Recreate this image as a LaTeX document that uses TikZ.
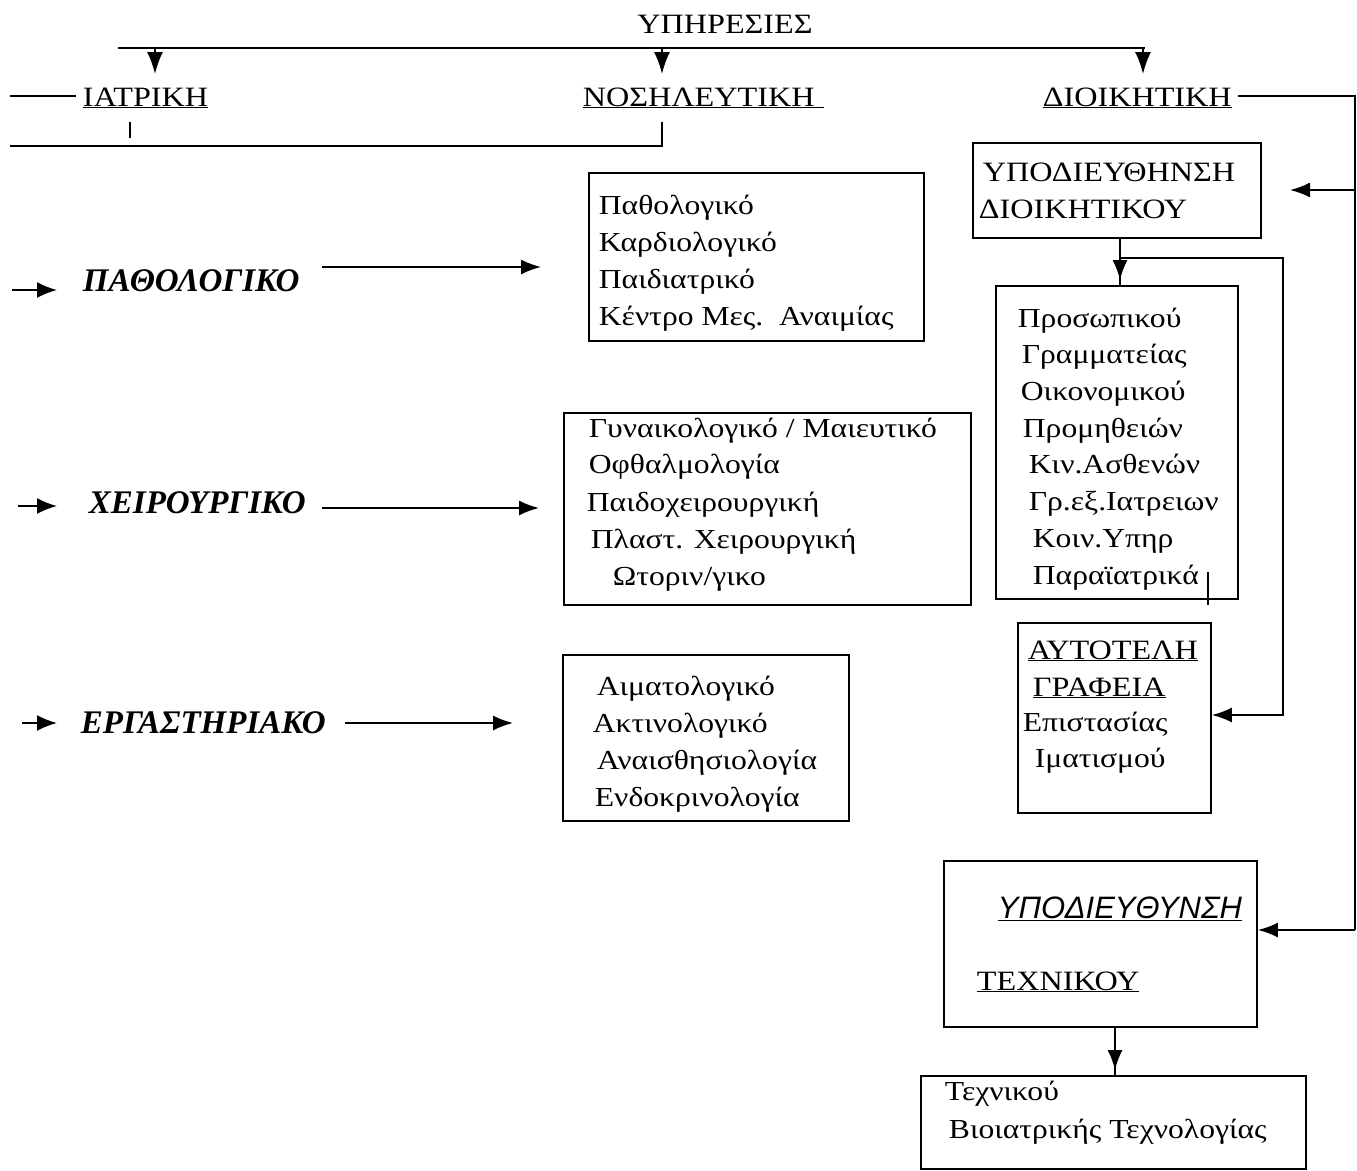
\documentclass[tikz,border=0pt]{standalone}
\usepackage{fontspec}
\setmainfont{Liberation Serif}
\newfontfamily\widefam[FakeStretch=1.15]{Liberation Serif}
\newfontfamily\sansfam{Liberation Sans}
\usetikzlibrary{arrows.meta}
\begin{document}
\begin{tikzpicture}[x=1pt,y=-1pt,line width=1.8pt,
  box/.style={draw,line width=1.9pt,inner sep=0pt,anchor=north west},
  txt/.style={inner sep=0pt,anchor=base west,font=\widefam\fontsize{27.5}{37}\selectfont},
  captxt/.style={inner sep=0pt,anchor=base west,font=\widefam\fontsize{28}{34}\selectfont},
  dept/.style={inner sep=0pt,anchor=base west,font=\fontsize{33}{37}\selectfont\bfseries\itshape},
  arr/.style={-{Latex[length=22pt,width=16pt]}},
  harr/.style={-{Latex[length=20pt,width=15pt]}},
  sarr/.style={-{Latex[length=20pt,width=16pt]}}]
\useasboundingbox (0,0) rectangle (1357,1170);

% ---- top level
\node[captxt,anchor=base] (yp) at (725,33) {ΥΠΗΡΕΣΙΕΣ};
\node[captxt] (iatr) at (82,106) {\underline{ΙΑΤΡΙΚΗ}};
\node[captxt] (nos) at (582,106) {\underline{ΝΟΣΗΛΕΥΤΙΚΗ\hspace{0.35em}}};
\node[captxt] (dioi) at (1042,106) {\underline{ΔΙΟΙΚΗΤΙΚΗ}};

\coordinate (tl) at (118,48);
\coordinate (tr) at (1145,48);
\coordinate (t1) at (155,48);
\coordinate (t2) at (662,48);
\coordinate (t3) at (1143,48);
\draw (tl) -- (tr);
\draw[arr] (t1) -- (155,74);
\draw[arr] (t2) -- (662,74);
\draw[arr] (t3) -- (1143,74);

\coordinate (ld) at (10,96);
\draw (ld) -- (76,96);
\coordinate (tk1) at (130,122);
\draw (tk1) -- (130,138);
\coordinate (tk2) at (662,122);
\coordinate (hl) at (10,146);
\draw (tk2) -- (662,146) -- (hl);

% right feeder line
\coordinate (rd) at (1238,96);
\coordinate (rc) at (1355,96);
\coordinate (rb) at (1355,930);
\draw (rd) -- (rc) -- (rb);

% ---- boxes
\node[box,minimum width=335pt,minimum height=168pt] (pb) at (588,172) {};
\node[box,minimum width=407pt,minimum height=192pt] (xb) at (563,412) {};
\node[box,minimum width=286pt,minimum height=166pt] (eb) at (562,654) {};
\node[box,minimum width=288pt,minimum height=95pt]  (sd) at (972,142) {};
\node[box,minimum width=242pt,minimum height=313pt] (lb) at (995,285) {};
\node[box,minimum width=193pt,minimum height=190pt] (ab) at (1017,622) {};
\node[box,minimum width=313pt,minimum height=166pt] (tb) at (943,860) {};
\node[box,minimum width=385pt,minimum height=93pt]  (bb) at (920,1075) {};

% ---- box texts
\node[txt] at (598,214) {Παθολογικό};
\node[txt] at (598,251) {Καρδιολογικό};
\node[txt] at (598,288) {Παιδιατρικό};
\node[txt] at (598,325) {Κέντρο Μες.\ \ Αναιμίας};

\node[txt] at (588,437) {Γυναικολογικό / Μαιευτικό};
\node[txt] at (588,473) {Οφθαλμολογία};
\node[txt] at (586,511) {Παιδοχειρουργική};
\node[txt] at (590,548) {Πλαστ. Χειρουργική};
\node[txt] at (612,585) {Ωτοριν/γικο};

\node[txt] at (596,695) {Αιματολογικό};
\node[txt] at (592,732) {Ακτινολογικό};
\node[txt] at (596,769) {Αναισθησιολογία};
\node[txt] at (594,806) {Ενδοκρινολογία};

\node[captxt] at (982,181) {ΥΠΟΔΙΕΥΘΗΝΣΗ};
\node[captxt] at (978,218) {ΔΙΟΙΚΗΤΙΚΟΥ};

\node[txt] at (1017,327) {Προσωπικού};
\node[txt] at (1021,363) {Γραμματείας};
\node[txt] at (1020,400) {Οικονομικού};
\node[txt] at (1022,437) {Προμηθειών};
\node[txt] at (1028,473) {Κιν.Ασθενών};
\node[txt] at (1028,510) {Γρ.εξ.Ιατρειων};
\node[txt] at (1032,547) {Κοιν.Υπηρ};
\node[txt] at (1032,584) {Παραϊατρικά};
\coordinate (tick) at (1208,572);
\draw (tick) -- (1208,605);

\node[captxt] at (1027,659) {\underline{ΑΥΤΟΤΕΛΗ}};
\node[captxt] at (1032,696) {\underline{ΓΡΑΦΕΙΑ}};
\node[txt] at (1022,731) {Επιστασίας};
\node[txt] at (1034,767) {Ιματισμού};

\node[inner sep=0pt,anchor=base west,font=\sansfam\fontsize{31}{34}\selectfont\itshape] at (997,918) {\underline{ΥΠΟΔΙΕΥΘΥΝΣΗ}};
\node[captxt] at (976,990) {\underline{ΤΕΧΝΙΚΟΥ}};

\node[txt] at (944,1100) {Τεχνικού};
\node[txt] at (948,1138) {Βιοιατρικής Τεχνολογίας};

% ---- department labels
\node[dept] (pl) at (82,291) {ΠΑΘΟΛΟΓΙΚΟ};
\node[dept] (xl) at (88,513) {ΧΕΙΡΟΥΡΓΙΚΟ};
\node[dept] (el) at (80,733) {ΕΡΓΑΣΤΗΡΙΑΚΟ};

\coordinate (pin) at (12,290);
\coordinate (xin) at (18,506);
\coordinate (ein) at (22,723);
\draw[sarr] (pin) -- (57,290);
\draw[sarr] (xin) -- (57,506);
\draw[sarr] (ein) -- (57,723);

\coordinate (pout) at (322,267);
\coordinate (xout) at (322,508);
\coordinate (eout) at (345,723);
\draw[harr] (pout) -- (541,267);
\draw[harr] (xout) -- (539,508);
\draw[harr] (eout) -- (513,723);

% ---- administration connectors
\draw (sd.south -| 1120,0) -- (lb.north -| 1120,0);
\draw[harr] (sd.south -| 1120,0) -- (1120,280);
\coordinate (br) at (1120,258);
\draw[harr] (br) -- (1283,258) -- (1283,715) -- (ab.east |- 0,715);
\draw[harr] (1355,190) -- (1290,190);
\draw[harr] (rb) -- (tb.east |- 0,930);

\draw (tb.south -| 1115,0) -- (bb.north -| 1115,0);
\draw[harr] (tb.south -| 1115,0) -- (1115,1070);
\end{tikzpicture}
\end{document}
